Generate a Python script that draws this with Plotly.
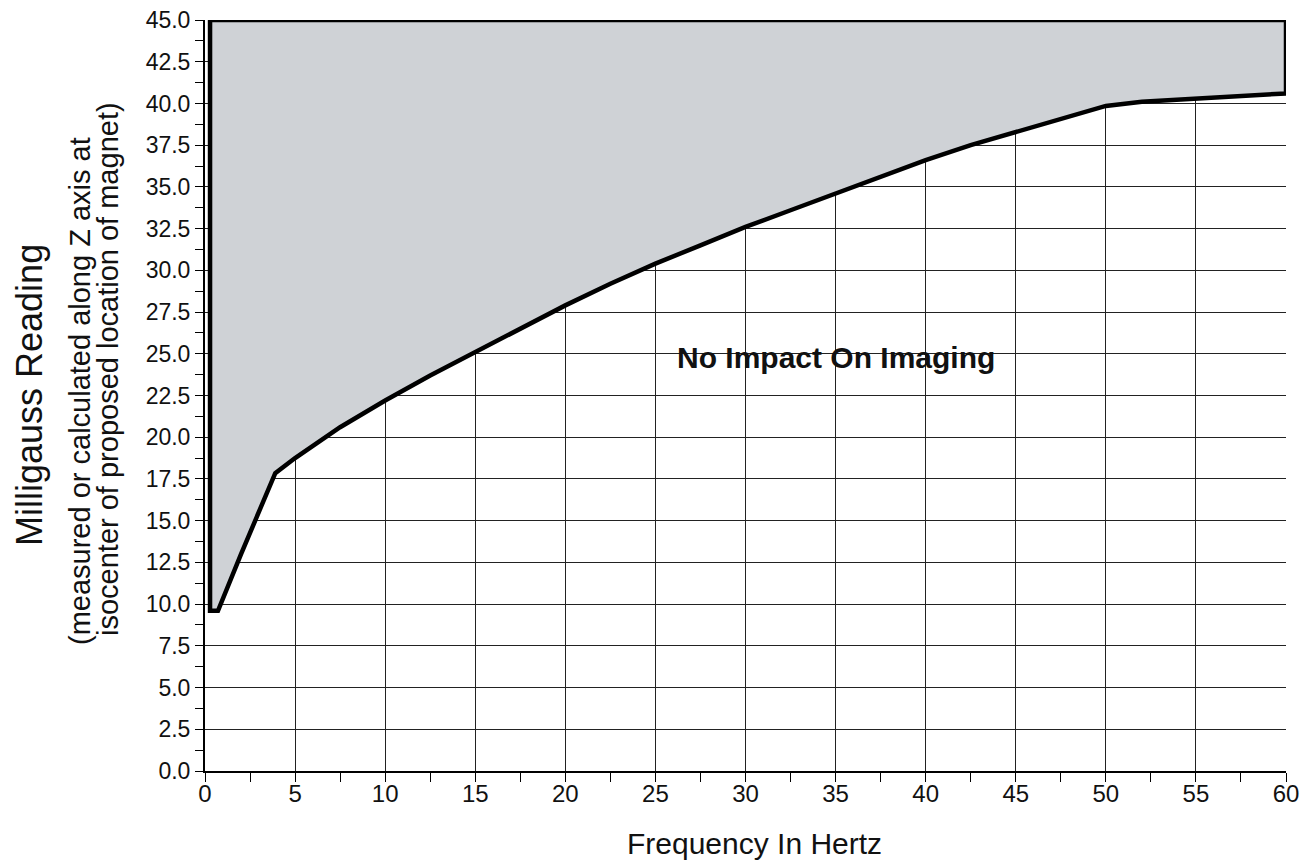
import plotly.graph_objects as go

# Boundary curve (frequency Hz, milligauss)
curve_x = [0.28, 0.72, 2.0, 3.9, 5.0, 7.5, 10, 12.5, 15, 17.5, 20, 22.5, 25, 27.5, 30, 32.5, 35, 37.5, 40, 42.5, 45, 47.5, 50, 52, 55, 57.5, 60]
curve_y = [9.6, 9.6, 13.0, 17.85, 18.75, 20.6, 22.2, 23.7, 25.1, 26.5, 27.9, 29.2, 30.4, 31.5, 32.6, 33.6, 34.6, 35.6, 36.6, 37.5, 38.3, 39.1, 39.85, 40.1, 40.3, 40.45, 40.6]
y_top = 45.0

x_ticks = list(range(0, 61, 5))
y_ticks = [i * 2.5 for i in range(19)]
y_tick_labels = [f"{v:.1f}" for v in y_ticks]

poly_x = [curve_x[0]] + curve_x + [curve_x[-1], curve_x[0]]
poly_y = [y_top] + curve_y + [y_top, y_top]

W, H = 1316, 861
ML = 205
MT = 20
MR = W - 1286
MB = H - 771
pw = W - ML - MR
ph = H - MT - MB


def px2paper(px, py):
    return (px - ML) / pw, (H - MB - py) / ph


fig = go.Figure()
fig.add_trace(go.Scatter(
    x=poly_x, y=poly_y, mode="lines", fill="toself",
    fillcolor="#cfd2d6", line=dict(color="black", width=4.5),
    hoverinfo="skip", showlegend=False,
))

font = "Liberation Sans, Arial, sans-serif"
tc = "#111"

fig.update_layout(
    width=W, height=H,
    margin=dict(l=ML, r=MR, t=MT, b=MB, autoexpand=False),
    paper_bgcolor="white", plot_bgcolor="white",
    font=dict(family=font, color=tc),
    showlegend=False,
    xaxis=dict(
        range=[0, 60], tickvals=x_ticks, ticktext=[str(v) for v in x_ticks],
        showgrid=True, gridcolor="#222", gridwidth=1.3,
        showline=True, linecolor="black", linewidth=2,
        ticks="", tickfont=dict(size=24, family=font, color=tc),
        minor=dict(dtick=2.5, tick0=0, ticks="outside", ticklen=9, tickcolor="black", showgrid=False),
        zeroline=False, fixedrange=True, automargin=False, ticklabeloverflow="allow",
    ),
    yaxis=dict(
        range=[0, 45], tickvals=y_ticks, ticktext=y_tick_labels,
        showgrid=True, gridcolor="#222", gridwidth=1.3,
        showline=True, linecolor="black", linewidth=2,
        ticks="outside", ticklen=8, tickcolor="black",
        tickfont=dict(size=23, family=font, color=tc),
        minor=dict(dtick=1.25, tick0=0, ticks="outside", ticklen=8, tickcolor="black", showgrid=False),
        zeroline=False, fixedrange=True, automargin=False, ticklabeloverflow="allow",
    ),
)

ann = [
    ("Milligauss Reading", 30, 395, 36),
    ("(measured or calculated along Z axis at", 80, 391, 29),
    ("isocenter of proposed location of magnet)", 108, 369, 29),
]
for text, px, py, size in ann:
    x, y = px2paper(px, py)
    fig.add_annotation(text=text, x=x, y=y, xref="paper", yref="paper",
                       xanchor="center", yanchor="middle", showarrow=False,
                       textangle=-90, font=dict(size=size, family=font, color=tc))

x, y = px2paper(754, 843)
fig.add_annotation(text="Frequency In Hertz", x=x, y=y, xref="paper", yref="paper",
                   xanchor="center", yanchor="middle", showarrow=False,
                   font=dict(size=30, family=font, color=tc))

fig.add_annotation(text="<b>No Impact On Imaging</b>", x=35, y=24.8, xref="x", yref="y",
                   showarrow=False, font=dict(size=30, family=font, color=tc))

fig.write_html("out.html", config={"displayModeBar": False},
               post_script="document.body.style.margin='0';document.body.style.overflow='hidden';")
